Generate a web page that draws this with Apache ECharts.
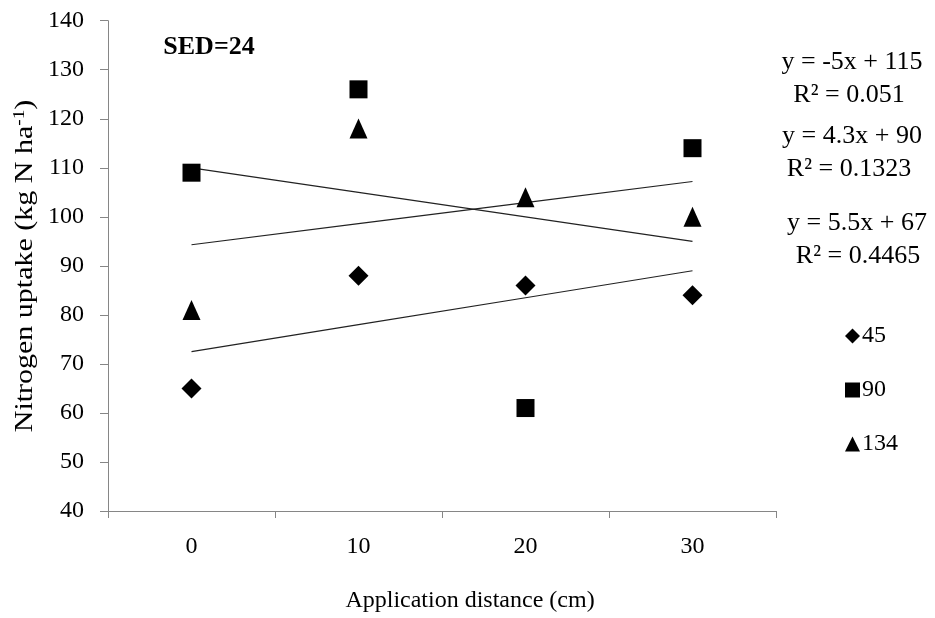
<!DOCTYPE html>
<html>
<head>
<meta charset="utf-8">
<script src="https://cdn.jsdelivr.net/npm/echarts@6/dist/echarts.min.js"></script>
<style>html,body{margin:0;padding:0;background:#fff;}#c{width:935px;height:618px;}</style>
</head>
<body>
<div id="c"></div>
<script>
var categories = ['0', '10', '20', '30'];
var yTicks = [40, 50, 60, 70, 80, 90, 100, 110, 120, 130, 140];
var seriesNames = ['45', '90', '134'];
var values45 = [65, 88, 86, 84];
var values90 = [109, 126, 61, 114];
var values134 = [81, 118, 104, 100];
var trend90 = [110, 105, 100, 95];
var trend134 = [94.3, 98.6, 102.9, 107.2];
var trend45 = [72.5, 78, 83.5, 89];
var equations = ['y = -5x + 115', 'R\u00b2 = 0.051', 'y = 4.3x + 90', 'R\u00b2 = 0.1323', 'y = 5.5x + 67', 'R\u00b2 = 0.4465'];
var sedLabel = 'SED=24';
var xName = 'Application distance (cm)';

var FONT = '"Liberation Serif", "Times New Roman", serif';
var chart = echarts.init(document.getElementById('c'), null, {renderer: 'canvas'});

function trendSeries(d) {
  return {
    type: 'line', data: d, symbol: 'none', silent: true,
    lineStyle: {color: '#222', width: 1.2}, z: 1
  };
}

var eqY = [62, 95, 136, 169, 223, 256];
var eqX = [852, 849, 852, 849, 857, 858];
var graphics = equations.map(function (t, i) {
  return {
    type: 'text', x: eqX[i], y: eqY[i],
    style: {text: t, font: '26px ' + FONT, fill: '#000', textAlign: 'center', textVerticalAlign: 'middle'}
  };
});
graphics.push({
  type: 'text', x: 209, y: 47,
  style: {text: sedLabel, font: 'bold 26px ' + FONT, fill: '#000', textAlign: 'center', textVerticalAlign: 'middle'}
});
graphics.push({
  type: 'text', x: 470, y: 601,
  style: {text: xName, font: '24px ' + FONT, fill: '#000', textAlign: 'center', textVerticalAlign: 'middle'}
});
graphics.push({
  type: 'text', x: 25, y: 266, rotation: Math.PI / 2, scaleX: 1.2,
  style: {
    text: '{a|Nitrogen uptake (kg N ha}{s|-1}{a|)}',
    align: 'center', verticalAlign: 'middle',
    rich: {
      a: {fontSize: 25, fontFamily: FONT, fill: '#000', color: '#000'},
      s: {fontSize: 16, fontFamily: FONT, fill: '#000', color: '#000', verticalAlign: 'top', padding: [0, 0, 10, 0]}
    }
  }
});

chart.setOption({
  backgroundColor: '#fff',
  animation: false,
  textStyle: {fontFamily: FONT},
  grid: {left: 108, right: 159, top: 20.7, bottom: 107, containLabel: false},
  legend: {
    data: seriesNames.map(function (n, i) {
      return {name: n, icon: ['diamond', 'rect', 'triangle'][i]};
    }),
    orient: 'vertical', left: 840, top: 319,
    itemWidth: 15, itemHeight: 15, itemGap: 30, itemStyle: {color: '#000', opacity: 1},
    textStyle: {fontFamily: FONT, fontSize: 24, color: '#000', padding: [0, 0, 0, -3]},
    selectedMode: false
  },
  xAxis: {
    type: 'category', data: categories, boundaryGap: true,
    axisLine: {lineStyle: {color: '#868686', width: 1}},
    axisTick: {show: true, length: 7, lineStyle: {color: '#868686'}},
    axisLabel: {color: '#000', fontSize: 24, fontFamily: FONT, margin: 24},
    splitLine: {show: false}
  },
  yAxis: {
    type: 'value', min: yTicks[0], max: yTicks[yTicks.length - 1], interval: 10,
    axisLine: {show: true, lineStyle: {color: '#868686', width: 1}},
    axisTick: {show: true, length: 8, lineStyle: {color: '#868686'}},
    axisLabel: {color: '#000', fontSize: 24, fontFamily: FONT, margin: 24},
    splitLine: {show: false}
  },
  series: [
    {name: '45', type: 'scatter', data: values45, symbol: 'diamond', symbolSize: 20, itemStyle: {color: '#000', opacity: 1}, z: 3},
    {name: '90', type: 'scatter', data: values90, symbol: 'rect', symbolSize: 18, itemStyle: {color: '#000', opacity: 1}, z: 3},
    {name: '134', type: 'scatter', data: values134, symbol: 'triangle', symbolSize: [18, 20], itemStyle: {color: '#000', opacity: 1}, z: 3},
    trendSeries(trend90),
    trendSeries(trend134),
    trendSeries(trend45)
  ],
  graphic: graphics
});
</script>
</body>
</html>
